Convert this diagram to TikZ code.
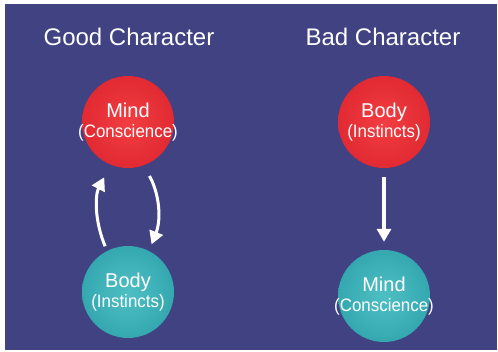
\documentclass[tikz,border=0pt]{standalone}
\usepackage{fontspec}
\setmainfont{Liberation Sans}
\newfontfamily\narrowfont[FakeStretch=0.94]{Liberation Sans}
\usetikzlibrary{arrows.meta}

\definecolor{slide}{RGB}{64,66,130}
\definecolor{redin}{RGB}{242,62,66}
\definecolor{redmid}{RGB}{220,36,46}
\definecolor{redout}{RGB}{150,22,40}
\definecolor{tealin}{RGB}{78,192,196}
\definecolor{tealmid}{RGB}{46,160,170}
\definecolor{tealout}{RGB}{28,112,128}
\pgfdeclareradialshading{redball}{\pgfpoint{0bp}{0bp}}%
  {color(0bp)=(redin); color(32bp)=(redmid); color(50bp)=(redout)}
\pgfdeclareradialshading{tealball}{\pgfpoint{0bp}{0bp}}%
  {color(0bp)=(tealin); color(32bp)=(tealmid); color(50bp)=(tealout)}

\tikzset{
  ball/.style={circle,minimum size=92pt,inner sep=-14pt,align=center,
    text=white,font=\fontsize{20}{22}\selectfont},
  topball/.style={ball,shade,shading=redball},
  lowball/.style={ball,shade,shading=tealball},
  title/.style={anchor=base,text=white,font=\fontsize{24}{28}\selectfont},
  flow/.style={white,line width=3pt,-{Triangle[width=14pt,length=13pt]}}
}
\newcommand{\sub}[1]{{\narrowfont\fontsize{18}{21}\selectfont #1}}

\begin{document}
\begin{tikzpicture}[x=1pt,y=-1pt]
  \useasboundingbox (0,0) rectangle (498,351);
  \fill[slide] (5,4) rectangle (497,350);
  % Left-hand side: good character
  \node[title]   (gtitle) at (129,45)  {Good Character};
  \node[topball] (gmind)  at (128,122) {Mind\\[-2pt]\sub{(Conscience)}};
  \node[lowball] (gbody)  at (128,292) {Body\\[-2pt]\sub{(Instincts)}};
  \draw[flow,shorten <=5pt,shorten >=14pt] (gbody.117) to[bend left=25] (gmind.248);
  \draw[flow,shorten <=12pt,shorten >=7pt] (gmind.290) to[bend left=25] (gbody.63);
  % Right-hand side: bad character
  \node[title]   (btitle) at (383,45)  {Bad Character};
  \node[topball] (bbody)  at (384,122) {Body\\[-2pt]\sub{(Instincts)}};
  \node[lowball] (bmind)  at (384,296) {Mind\\[-2pt]\sub{(Conscience)}};
  \draw[flow,line width=4pt,shorten <=9pt,shorten >=8pt] (bbody) -- (bmind);
\end{tikzpicture}
\end{document}
